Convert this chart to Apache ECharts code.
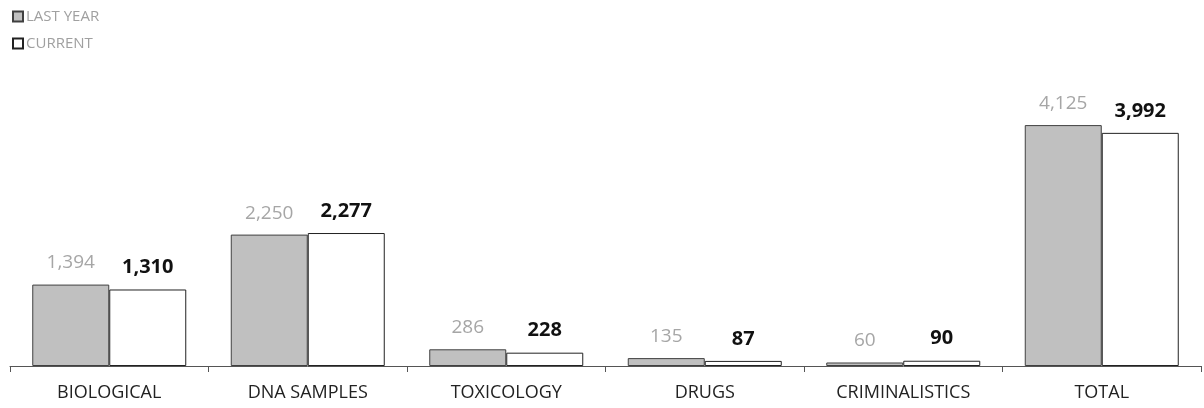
<!DOCTYPE html>
<html>
<head>
<meta charset="utf-8">
<script src="https://cdn.jsdelivr.net/npm/echarts@6/dist/echarts.min.js"></script>
<style>
  html, body { margin: 0; padding: 0; background: #fff; }
  #chart { width: 1204px; height: 408px; }
</style>
</head>
<body>
<div id="chart"></div>
<script>
const categories = ['BIOLOGICAL', 'DNA SAMPLES', 'TOXICOLOGY', 'DRUGS', 'CRIMINALISTICS', 'TOTAL']
const lastYear = [1394, 2250, 286, 135, 60, 4125]
const current = [1310, 2277, 228, 87, 90, 3992]

const font = '"Open Sans", "Noto Sans", sans-serif'
const fmt = p => p.value.toLocaleString('en-US')

let chart = echarts.init(document.getElementById('chart'))
chart.setOption({
  animation: false,
  textStyle: { fontFamily: font },
  legend: {
    orient: 'vertical',
    left: 7,
    top: 4,
    icon: 'rect',
    itemWidth: 10,
    itemHeight: 10,
    itemGap: 12,
    textStyle: { color: '#a0a0a0', fontSize: 15, padding: [0, 0, 0, -2] },
    data: ['LAST YEAR', 'CURRENT']
  },
  grid: { left: 10, right: 3, top: 74, bottom: 42 },
  xAxis: {
    type: 'category',
    data: categories,
    axisLine: { lineStyle: { color: '#555', width: 1 } },
    axisTick: { show: true, length: 6, lineStyle: { color: '#555' } },
    axisLabel: { color: '#222', fontSize: 18, margin: 18 }
  },
  yAxis: {
    type: 'value',
    min: 0,
    max: 5000,
    show: false,
    splitLine: { show: false }
  },
  series: [
    {
      name: 'LAST YEAR',
      type: 'bar',
      data: lastYear,
      barWidth: 77,
      barGap: '0%',
      itemStyle: { color: '#c0c0c0', borderColor: '#404040', borderWidth: 1 },
      label: {
        show: true,
        position: 'top',
        distance: 12,
        formatter: fmt,
        color: '#a6a6a6',
        fontSize: 19
      }
    },
    {
      name: 'CURRENT',
      type: 'bar',
      data: current,
      barWidth: 77,
      barGap: '0%',
      itemStyle: { color: '#ffffff', borderColor: '#222', borderWidth: 1 },
      label: {
        show: true,
        position: 'top',
        distance: 12,
        formatter: fmt,
        color: '#111',
        fontSize: 20,
        fontWeight: 'bold'
      }
    }
  ]
})
</script>
</body>
</html>
